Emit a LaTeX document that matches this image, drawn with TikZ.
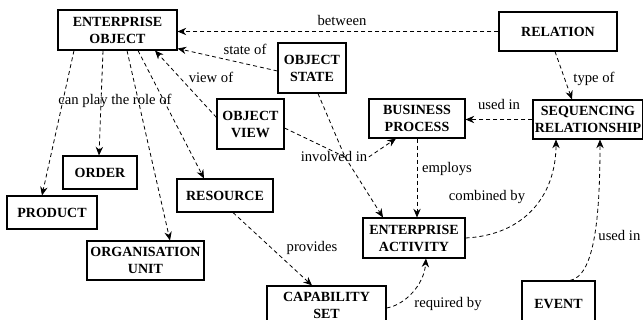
\documentclass[tikz,border=0pt]{standalone}
\usepackage{fontspec}
\setmainfont{Liberation Serif}
\usetikzlibrary{shapes,arrows.meta,calc}

\tikzset{
    ent/.style={draw,line width=0.8pt,align=center,inner sep=1pt,
      font=\fontsize{10.5}{12.75}\selectfont\bfseries},
    link/.style={dash pattern=on 3pt off 2.25pt,line width=0.6pt},
    rel/.style={link,-{Stealth[length=6.5pt,width=5.5pt]}},
    lab/.style={anchor=base,inner sep=1pt}
}

\begin{document}
\begin{tikzpicture}[x=0.75pt,y=-0.75pt,
    every node/.style={font=\fontsize{11}{13}\selectfont}]
    \useasboundingbox (0,0) rectangle (643,320);
    \clip (0,0) rectangle (643,320);

    % Draw the entities
    \node[ent,minimum width=89.25pt,minimum height=30pt] (eobj) at (117.5,30) {ENTERPRISE\\OBJECT};
    \node[ent,minimum width=51pt,minimum height=37.5pt] (ostate) at (312,68) {OBJECT\\STATE};
    \node[ent,minimum width=50.25pt,minimum height=37.5pt] (oview) at (250.5,124) {OBJECT\\VIEW};
    \node[ent,minimum width=88.5pt,minimum height=29.25pt] (relation) at (558,31.5) {RELATION};
    \node[ent,minimum width=72pt,minimum height=29.25pt] (bproc) at (417,118.5) {BUSINESS\\PROCESS};
    \node[ent,minimum width=82.5pt,minimum height=29.25pt] (seqrel) at (588,119.5) {SEQUENCING\\RELATIONSHIP};
    \node[ent,minimum width=55.5pt,minimum height=24.75pt] (order) at (100,172.5) {ORDER};
    \node[ent,minimum width=67.5pt,minimum height=24.75pt] (product) at (52,212.5) {PRODUCT};
    \node[ent,minimum width=72pt,minimum height=24.75pt] (resource) at (225,195.5) {RESOURCE};
    \node[ent,minimum width=87.75pt,minimum height=29.25pt] (orgunit) at (145.5,260.5) {ORGANISATION\\UNIT};
    \node[ent,minimum width=89.25pt,minimum height=29.25pt] (capset) at (326.5,305.5) {CAPABILITY\\SET};
    \node[ent,minimum width=76.5pt,minimum height=30pt] (eact) at (414,238) {ENTERPRISE\\ACTIVITY};
    \node[ent,minimum width=54.75pt,minimum height=34.5pt] (event) at (558.5,304) {EVENT};

    % Relation labels
    \node[lab] (lbetween) at (342,26) {between};
    \node[lab] (lstate) at (245,55) {state of};
    \node[lab] (lview) at (211,83) {view of};
    \node[lab] (lrole) at (115,105) {can play the role of};
    \node[lab] (linvolved) at (334,162) {involved in};
    \node[lab] (lemploys) at (447,173) {employs};
    \node[lab] (lusedbp) at (499,110) {used in};
    \node[lab] (ltype) at (594,83) {type of};
    \node[lab] (lcombined) at (487,201) {combined by};
    \node[lab,anchor=base east] (lusedev) at (642,241) {used in};
    \node[lab] (lrequired) at (448,308) {required by};
    \node[lab] (lprovides) at (312,252) {provides};
    \coordinate (hub) at (345,157);

    % Connectors of the enterprise object
    \draw[rel] (relation.west) -- (relation.west -| eobj.east);
    \draw[rel] ($(ostate.west)+(0,3)$) -- ($(eobj.south east)+(0,-2)$);
    \draw[rel] ($(oview.north west)+(0,19)$) -- ($(eobj.south)+(37.5,0)$);
    \draw[rel] ($(eobj.south)+(-14.5,0)$) -- ($(order.north)+(-1,0)$);
    \draw[rel] ($(eobj.south)+(-43.5,0)$) -- ($(product.north)+(-10,0)$);
    \draw[rel] ($(eobj.south)+(9.5,0)$) -- ($(orgunit.north)+(24.5,0)$);
    \draw[rel] ($(eobj.south)+(20.5,0)$) -- ($(resource.north)+(-21,0)$);

    % involved in
    \draw[link] ($(oview.east)+(0,4)$) -- (hub);
    \draw[link] ($(ostate.south)+(6,0)$) -- (hub);
    \draw[rel] (hub) -- ($(eact.north)+(-31,0)$);
    \draw[rel] (linvolved.east) -- ($(bproc.south)+(-21,0)$);

    % Process, activity and sequencing
    \draw[rel] (bproc.south) -- (bproc.south |- eact.north);
    \draw[rel] (seqrel.west) -- (seqrel.west -| bproc.east);
    \draw[rel] ($(relation.south)+(-3,0)$) -- ($(seqrel.north)+(-16,0)$);
    \draw[rel] (eact.east) .. controls (525,235) and (556,195) .. ($(seqrel.south)+(-32,0)$);
    \draw[rel] ($(event.north)+(11.5,0)$) .. controls (594,276) and (600,220) .. ($(seqrel.south)+(12,0)$);
    \draw[rel] ($(capset.east)+(0,2.5)$) .. controls (405,305) and (424,285) .. ($(eact.south)+(12,0)$);
    \draw[rel] ($(resource.south)+(8,0)$) -- ($(capset.north)+(-14.5,0)$);
\end{tikzpicture}
\end{document}
